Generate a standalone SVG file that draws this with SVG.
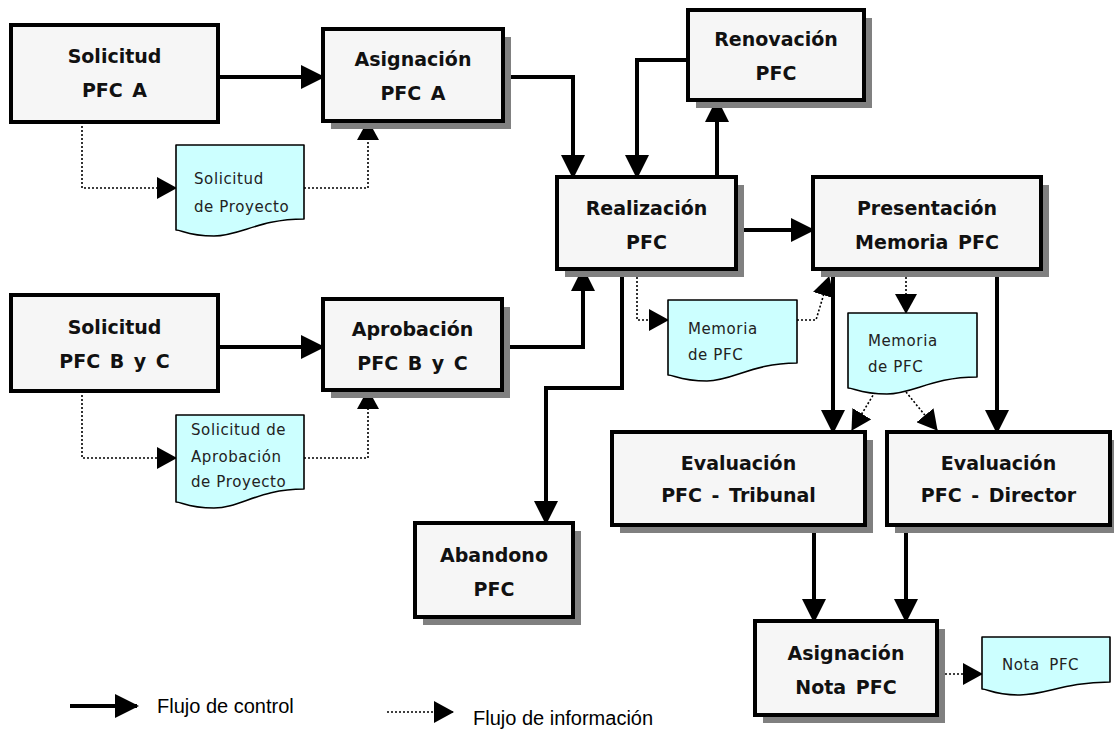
<svg xmlns="http://www.w3.org/2000/svg" width="1114" height="729" viewBox="0 0 1114 729">
  <style>
    .box { fill: #f6f6f6; stroke: #000; stroke-width: 4; }
    .shadow { fill: #808080; }
    .doc { fill: #ccffff; stroke: #000; stroke-width: 1.6; stroke-linejoin: round; }
    .t { font-family: "DejaVu Sans", Verdana, sans-serif; font-weight: bold; font-size: 19px; fill: #111; text-anchor: middle; word-spacing: 3px; }
    .dt { font-family: "DejaVu Sans", Verdana, sans-serif; font-size: 15px; fill: #222; letter-spacing: 0.6px; }
    .lg { font-family: "Liberation Sans", Arial, sans-serif; font-size: 20px; fill: #000; }
    .ctrl { fill: none; stroke: #000; stroke-width: 4; marker-end: url(#head); }
    .info { fill: none; stroke: #000; stroke-width: 1.6; stroke-dasharray: 2 2; marker-end: url(#headS); }
  </style>
  <defs>
    <marker id="head" viewBox="0 0 24 24" refX="22" refY="12" markerWidth="24" markerHeight="24" markerUnits="userSpaceOnUse" orient="auto">
      <path d="M0,0 L24,12 L0,24 Z" fill="#000"/>
    </marker>
    <marker id="headS" viewBox="0 0 20 22" refX="19" refY="11" markerWidth="20" markerHeight="22" markerUnits="userSpaceOnUse" orient="auto">
      <path d="M0,0 L20,11 L0,22 Z" fill="#000"/>
    </marker>
  </defs>

  <!-- control flow and information flow -->
  <g id="connectors">
    <path class="ctrl" d="M218,77 H323"/>
    <path class="ctrl" d="M503,77 H573 V177"/>
    <path class="ctrl" d="M688,60 H637 V177"/>
    <path class="ctrl" d="M717,177 V100"/>
    <path class="ctrl" d="M736,230 H813"/>
    <path class="ctrl" d="M218,347 H323"/>
    <path class="ctrl" d="M502,347 H583 V269"/>
    <path class="ctrl" d="M622,269 V388 H546 V523"/>
    <path class="ctrl" d="M833,269 V432"/>
    <path class="ctrl" d="M997,269 V432"/>
    <path class="ctrl" d="M814,525 V621"/>
    <path class="ctrl" d="M906,525 V621"/>

    <path class="info" d="M82,122 V188 H176"/>
    <path class="info" d="M304,188 H368 V121"/>
    <path class="info" d="M82,391 V458 H176"/>
    <path class="info" d="M304,458 H368 V390"/>
    <path class="info" d="M637,269 V320 H668"/>
    <path class="info" d="M797,320 H816 L829,277"/>
    <path class="info" d="M906,269 V313"/>
    <path class="info" d="M875,392 L852,430"/>
    <path class="info" d="M906,392 L937,430"/>
    <path class="info" d="M937,674 H982"/>
  </g>

  <g id="solicitud-a">
    <rect class="box" x="11" y="25" width="207" height="97"/>
    <text class="t" x="114.5" y="63">Solicitud</text>
    <text class="t" x="114.5" y="97">PFC A</text>
  </g>

  <g id="asignacion-a">
    <rect class="shadow" x="331" y="37" width="180" height="92"/>
    <rect class="box" x="323" y="29" width="180" height="92"/>
    <text class="t" x="413" y="66">Asignación</text>
    <text class="t" x="413" y="100">PFC A</text>
  </g>

  <g id="renovacion">
    <rect class="shadow" x="696" y="18" width="176" height="90"/>
    <rect class="box" x="688" y="10" width="176" height="90"/>
    <text class="t" x="776" y="46">Renovación</text>
    <text class="t" x="776" y="80">PFC</text>
  </g>

  <g id="realizacion">
    <rect class="shadow" x="565" y="185" width="179" height="92"/>
    <rect class="box" x="557" y="177" width="179" height="92"/>
    <text class="t" x="646.5" y="215">Realización</text>
    <text class="t" x="646.5" y="249">PFC</text>
  </g>

  <g id="presentacion">
    <rect class="shadow" x="821" y="185" width="228" height="92"/>
    <rect class="box" x="813" y="177" width="228" height="92"/>
    <text class="t" x="927" y="215">Presentación</text>
    <text class="t" x="927" y="249">Memoria PFC</text>
  </g>

  <g id="solicitud-bc">
    <rect class="box" x="11" y="295" width="207" height="96"/>
    <text class="t" x="114.5" y="334">Solicitud</text>
    <text class="t" x="114.5" y="368">PFC B y C</text>
  </g>

  <g id="aprobacion-bc">
    <rect class="shadow" x="331" y="307" width="179" height="91"/>
    <rect class="box" x="323" y="299" width="179" height="91"/>
    <text class="t" x="412.5" y="336">Aprobación</text>
    <text class="t" x="412.5" y="370">PFC B y C</text>
  </g>

  <g id="abandono">
    <rect class="shadow" x="423" y="531" width="158" height="94"/>
    <rect class="box" x="415" y="523" width="158" height="94"/>
    <text class="t" x="494" y="562">Abandono</text>
    <text class="t" x="494" y="596">PFC</text>
  </g>

  <g id="evaluacion-tribunal">
    <rect class="shadow" x="620" y="440" width="253" height="93"/>
    <rect class="box" x="612" y="432" width="253" height="93"/>
    <text class="t" x="738.5" y="470">Evaluación</text>
    <text class="t" x="738.5" y="502">PFC - Tribunal</text>
  </g>

  <g id="evaluacion-director">
    <rect class="shadow" x="895" y="440" width="223" height="93"/>
    <rect class="box" x="887" y="432" width="223" height="93"/>
    <text class="t" x="998.5" y="470">Evaluación</text>
    <text class="t" x="998.5" y="502">PFC - Director</text>
  </g>

  <g id="asignacion-nota">
    <rect class="shadow" x="763" y="629" width="182" height="94"/>
    <rect class="box" x="755" y="621" width="182" height="94"/>
    <text class="t" x="846" y="660">Asignación</text>
    <text class="t" x="846" y="694">Nota PFC</text>
  </g>

  <!-- documents -->
  <g id="doc-solicitud-proyecto">
    <path class="doc" d="M176,145 H304 V219 C259,219 240,236 214,236 S182,230 176,230 Z"/>
    <text class="dt" x="194" y="184">Solicitud</text>
    <text class="dt" x="194" y="212">de Proyecto</text>
  </g>

  <g id="doc-solicitud-aprobacion">
    <path class="doc" d="M176,415 H304 V489 C259,489 240,508 214,508 S182,502 176,502 Z"/>
    <text class="dt" x="191" y="435">Solicitud de</text>
    <text class="dt" x="191" y="462">Aprobación</text>
    <text class="dt" x="191" y="487">de Proyecto</text>
  </g>

  <g id="doc-memoria-1">
    <path class="doc" d="M668,300 H797 V363 C752,363 733,381 707,381 S674,375 668,375 Z"/>
    <text class="dt" x="688" y="334">Memoria</text>
    <text class="dt" x="688" y="360">de PFC</text>
  </g>

  <g id="doc-memoria-2">
    <path class="doc" d="M848,313 H977 V377 C932,377 913,394 887,394 S854,388 848,388 Z"/>
    <text class="dt" x="868" y="346">Memoria</text>
    <text class="dt" x="868" y="372">de PFC</text>
  </g>

  <g id="doc-nota">
    <path class="doc" d="M982,637 H1110 V682 C1065,682 1046,695 1020,695 S988,689 982,689 Z"/>
    <text class="dt" x="1002" y="670" style="word-spacing:4px">Nota PFC</text>
  </g>

  <!-- legend -->
  <g id="legend">
    <path class="ctrl" d="M70,706 H137"/>
    <text class="lg" x="157" y="713">Flujo de control</text>
    <path class="info" d="M387,712 H453"/>
    <text class="lg" x="473" y="725">Flujo de información</text>
  </g>
</svg>
